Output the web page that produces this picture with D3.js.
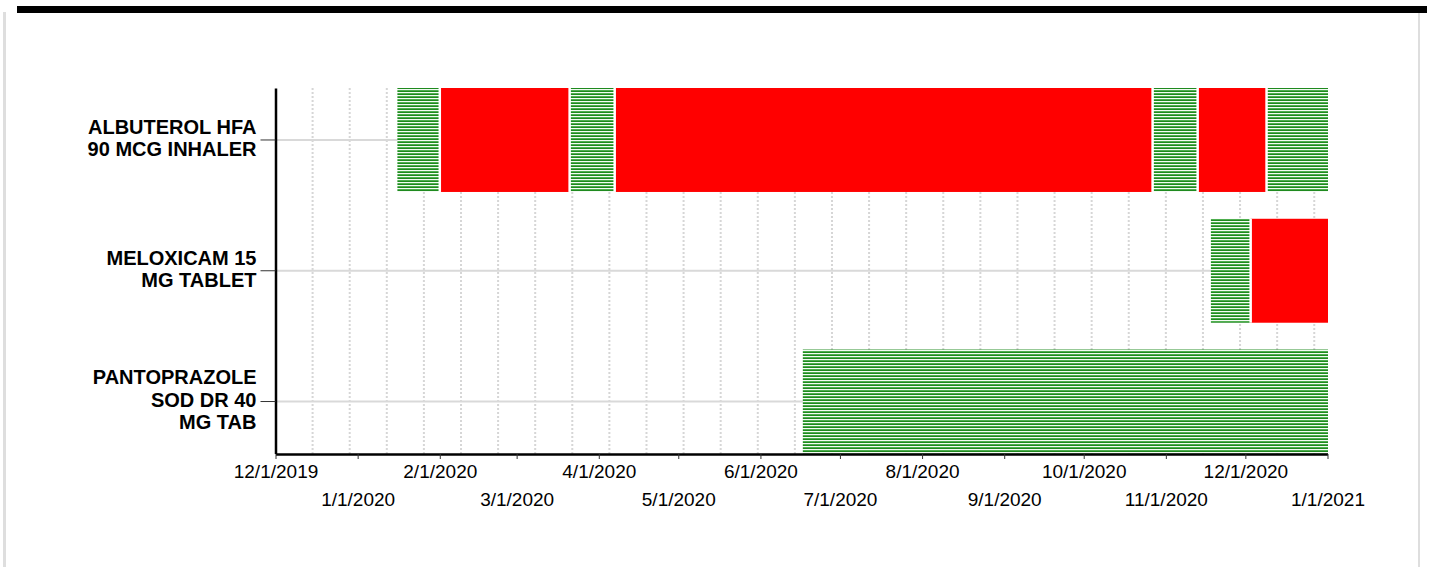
<!DOCTYPE html>
<html>
<head>
<meta charset="utf-8">
<script src="https://cdn.jsdelivr.net/npm/d3@7"></script>
<style>
  html, body { margin: 0; padding: 0; background: #fff; }
  body { width: 1430px; height: 567px; overflow: hidden; font-family: "Liberation Sans", Arial, sans-serif; }
</style>
</head>
<body>
<div id="chart"></div>
<script>
// medications (rows) and their label lines
const drugs = ['ALBUTEROL HFA 90 MCG INHALER', 'MELOXICAM 15 MG TABLET', 'PANTOPRAZOLE SOD DR 40 MG TAB'];
const drugLines = [
  ['ALBUTEROL HFA', '90 MCG INHALER'],
  ['MELOXICAM 15', 'MG TABLET'],
  ['PANTOPRAZOLE', 'SOD DR 40', 'MG TAB'],
];

// segments per row: [start, end, kind]  kind: 'supply' (green hatch) / 'gap' (red)
const albuterolSegs = [
  ['2020-01-16', '2020-02-01', 'supply'],
  ['2020-02-01', '2020-03-21', 'gap'],
  ['2020-03-21', '2020-04-07', 'supply'],
  ['2020-04-07', '2020-10-27', 'gap'],
  ['2020-10-27', '2020-11-13', 'supply'],
  ['2020-11-13', '2020-12-09', 'gap'],
  ['2020-12-09', '2021-01-01', 'supply'],
];
const meloxicamSegs = [
  ['2020-11-18', '2020-12-03', 'supply'],
  ['2020-12-03', '2021-01-01', 'gap'],
];
const pantoprazoleSegs = [
  ['2020-06-17', '2021-01-01', 'supply'],
];
const segsByDrug = [albuterolSegs, meloxicamSegs, pantoprazoleSegs];

const domainStart = '2019-12-01';
const domainEnd = '2021-01-01';

const W = 1430, H = 567;
const parse = d3.timeParse('%Y-%m-%d');
const fmt = d3.timeFormat('%-m/%-d/%Y');

const svg = d3.select('#chart').append('svg').attr('width', W).attr('height', H);

// page frame: black bar on top, grey side rules
svg.append('rect').attr('x', 17).attr('y', 6).attr('width', 1410).attr('height', 7).attr('fill', '#000');
svg.append('rect').attr('x', 3).attr('y', 12).attr('width', 3).attr('height', H - 12).attr('fill', '#dedede');
svg.append('rect').attr('x', 1418).attr('y', 13).attr('width', 2).attr('height', H - 13).attr('fill', '#dedede');

const defs = svg.append('defs');
const pat = defs.append('pattern')
  .attr('id', 'hatch')
  .attr('patternUnits', 'userSpaceOnUse')
  .attr('width', 6).attr('height', 3);
pat.append('rect').attr('width', 6).attr('height', 3).attr('fill', '#f4fbf4');
pat.append('rect').attr('y', 0).attr('width', 6).attr('height', 1).attr('fill', '#4fae4f');
pat.append('rect').attr('y', 1).attr('width', 6).attr('height', 1).attr('fill', '#1f8a1f');

const x = d3.scaleTime().domain([parse(domainStart), parse(domainEnd)]).range([275.5, 1327.5]);
const y = d3.scaleBand().domain(drugs).range([88, 453.5]).paddingInner(0.205).paddingOuter(0);

const plotTop = 88, plotBottom = 454;

// biweekly dotted grid
const gridDates = d3.timeDay.range(parse(domainStart), parse(domainEnd), 14).slice(1);
svg.append('g').selectAll('line').data(gridDates).join('line')
  .attr('x1', (d) => x(d)).attr('x2', (d) => x(d))
  .attr('y1', plotTop).attr('y2', plotBottom)
  .attr('stroke', '#d6d6d6').attr('stroke-width', 2)
  .attr('stroke-dasharray', '2 2');

// row centre lines
svg.append('g').selectAll('line').data(drugs).join('line')
  .attr('x1', x.range()[0]).attr('x2', x.range()[1])
  .attr('y1', (d) => y(d) + y.bandwidth() / 2)
  .attr('y2', (d) => y(d) + y.bandwidth() / 2)
  .attr('stroke', '#d9d9d9').attr('stroke-width', 2);

// bars, with a thin white gap where two segments meet
drugs.forEach((drug, i) => {
  const segs = segsByDrug[i];
  const g = svg.append('g');
  g.selectAll('rect').data(segs).join('rect')
    .attr('x', (s) => x(parse(s[0])))
    .attr('y', y(drug))
    .attr('width', (s) => x(parse(s[1])) - x(parse(s[0])) + 0.5)
    .attr('height', y.bandwidth())
    .attr('fill', (s) => (s[2] === 'gap' ? '#ff0000' : 'url(#hatch)'));
  g.selectAll('line').data(segs.slice(1)).join('line')
    .attr('x1', (s) => x(parse(s[0]))).attr('x2', (s) => x(parse(s[0])))
    .attr('y1', y(drug)).attr('y2', y(drug) + y.bandwidth())
    .attr('stroke', '#fff').attr('stroke-width', 2.5);
});

// x axis
const monthTicks = d3.timeMonth.range(parse(domainStart), d3.timeDay.offset(parse(domainEnd), 1));
const xAxis = svg.append('g')
  .attr('transform', `translate(0,${plotBottom})`)
  .call(d3.axisBottom(x).tickValues(monthTicks).tickFormat(fmt).tickSize(5).tickSizeOuter(0));
xAxis.select('.domain').attr('stroke', '#000').attr('stroke-width', 2.5);
xAxis.selectAll('.tick line').attr('stroke', '#333');
xAxis.selectAll('.tick text')
  .attr('font-family', '"Liberation Sans", Arial, sans-serif')
  .attr('font-size', 19)
  .attr('fill', '#000')
  .attr('dy', null)
  .attr('y', (d, i) => (i % 2 === 0 ? 24 : 52));

// y axis
const yAxis = svg.append('g')
  .attr('transform', 'translate(275.5,0)')
  .call(d3.axisLeft(y).tickSize(15).tickSizeOuter(0).tickPadding(3).tickFormat(''));
yAxis.select('.domain').attr('stroke', '#000').attr('stroke-width', 2.5);
yAxis.selectAll('.tick line').attr('stroke', '#333');
yAxis.selectAll('.tick').each(function (d, i) {
  const lines = drugLines[i];
  const lh = 22.5;
  const t = d3.select(this).select('text')
    .attr('font-family', '"Liberation Sans", Arial, sans-serif')
    .attr('font-size', 20)
    .attr('font-weight', 'bold')
    .attr('fill', '#000')
    .attr('dy', null)
    .attr('x', -19);
  lines.forEach((ln, k) => {
    t.append('tspan')
      .attr('x', -19)
      .attr('y', (k - (lines.length - 1) / 2) * lh + 5)
      .text(ln);
  });
});
</script>
</body>
</html>
